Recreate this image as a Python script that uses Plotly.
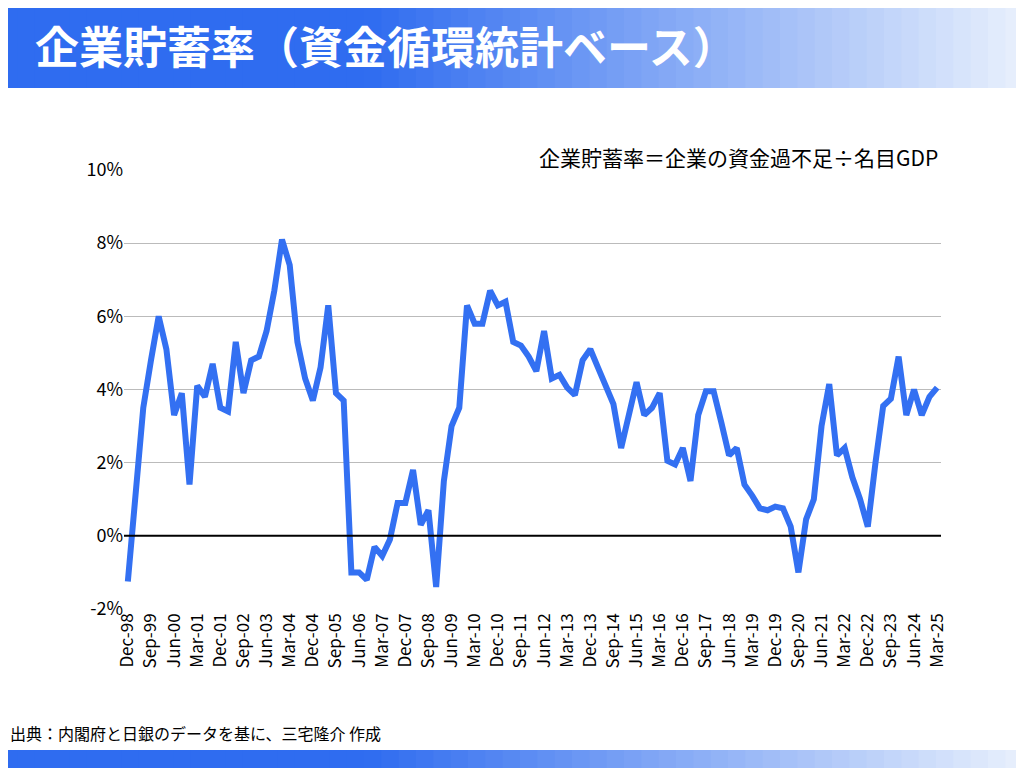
import plotly.graph_objects as go

months = ["Mar", "Jun", "Sep", "Dec"]
quarters = []
q, y = 3, 1998
for _ in range(106):
    quarters.append(f"{months[q]}-{str(y)[2:]}")
    q += 1
    if q == 4:
        q, y = 0, y + 1

savings_rate = [
    -1.25, 1.0, 3.5, 4.8, 6.0, 5.1, 3.3, 3.9, 1.4, 4.1,
    3.8, 4.7, 3.5, 3.4, 5.3, 3.9, 4.8, 4.9, 5.6, 6.7,
    8.1, 7.4, 5.3, 4.3, 3.7, 4.6, 6.3, 3.9, 3.7, -1.0,
    -1.0, -1.2, -0.3, -0.55, -0.1, 0.9, 0.9, 1.8, 0.3, 0.7,
    -1.4, 1.5, 3.0, 3.5, 6.3, 5.8, 5.8, 6.7, 6.3, 6.4,
    5.3, 5.2, 4.9, 4.5, 5.6, 4.3, 4.4, 4.05, 3.85, 4.8,
    5.1, 4.6, 4.1, 3.6, 2.4, 3.3, 4.2, 3.3, 3.5, 3.9,
    2.05, 1.95, 2.4, 1.5, 3.3, 3.95, 3.95, 3.1, 2.2, 2.4,
    1.4, 1.1, 0.75, 0.7, 0.8, 0.75, 0.25, -1.0, 0.45, 1.0,
    3.0, 4.15, 2.2, 2.4, 1.6, 1.0, 0.25, 2.0, 3.55, 3.75,
    4.9, 3.3, 4.0, 3.3, 3.8, 4.05,
]
y_ticks = [-2, 0, 2, 4, 6, 8, 10]
y_tick_labels = ["-2%", "0%", "2%", "4%", "6%", "8%", "10%"]

font = "Noto Sans CJK JP"
OFF = 8  # page offset
L, T, PW, PH = 128 - 4 - OFF, 170 - OFF, 817, 439

def px_x(p):
    return (p - OFF - L) / PW
def py(p):
    return (T + PH - (p - OFF)) / PH

fig = go.Figure()
fig.add_trace(go.Scatter(x=list(range(len(quarters))), y=savings_rate, mode="lines",
                         line=dict(color="#3370f2", width=6), hoverinfo="skip"))

shapes = []
n = 60
def lerp(a, b, t):
    return int(a + (b - a) * t)
c0, c1 = (47, 108, 240), (235, 242, 253)
for k in range(n):
    t = k / (n - 1)
    tt = max(0, (t - 0.35) / 0.65)
    col = f"rgb({lerp(c0[0],c1[0],tt)},{lerp(c0[1],c1[1],tt)},{lerp(c0[2],c1[2],tt)})"
    for top, bot in [(0, 88), (750, 776)]:
        shapes.append(dict(type="rect", xref="paper", yref="paper", layer="below",
                           x0=px_x(k * 1040 / n), x1=px_x((k + 1) * 1040 / n + 1),
                           y0=py(bot), y1=py(top),
                           line=dict(width=0), fillcolor=col))
shapes.append(dict(type="line", xref="paper", yref="y", x0=0, x1=1, y0=0, y1=0,
                   line=dict(color="black", width=2)))

fig.update_layout(
    width=1024, height=768,
    margin=dict(l=L, r=1024 - L - PW, t=T, b=768 - T - PH),
    paper_bgcolor="white", plot_bgcolor="white",
    showlegend=False,
    font=dict(family=font, color="black"),
    shapes=shapes,
    xaxis=dict(range=[-0.5, 105.5], tickvals=list(range(0, 106, 3)),
               ticktext=quarters[::3], tickangle=-90, tickfont=dict(size=17),
               showgrid=False, zeroline=False, showline=False, ticks=""),
    yaxis=dict(range=[-2, 10], tickvals=y_ticks, ticktext=y_tick_labels,
               tickfont=dict(size=18), gridcolor="#bbbbbb", gridwidth=1,
               zeroline=False, showline=False, ticks="", ticklen=6),
    annotations=[
        dict(text="<b>企業貯蓄率（資金循環統計ベース）</b>", xref="paper", yref="paper",
             x=px_x(33), y=py(45), xanchor="left", yanchor="middle", showarrow=False,
             font=dict(size=44, color="white", family=font)),
        dict(text="企業貯蓄率＝企業の資金過不足÷名目GDP", xref="paper", yref="paper",
             x=px_x(940), y=py(157), xanchor="right", yanchor="middle", showarrow=False,
             font=dict(size=21, family=font)),
        dict(text="出典：内閣府と日銀のデータを基に、三宅隆介 作成", xref="paper", yref="paper",
             x=px_x(8), y=py(733), xanchor="left", yanchor="middle", showarrow=False,
             font=dict(size=16, family=font)),
    ],
)
fig.write_html("out.html")
